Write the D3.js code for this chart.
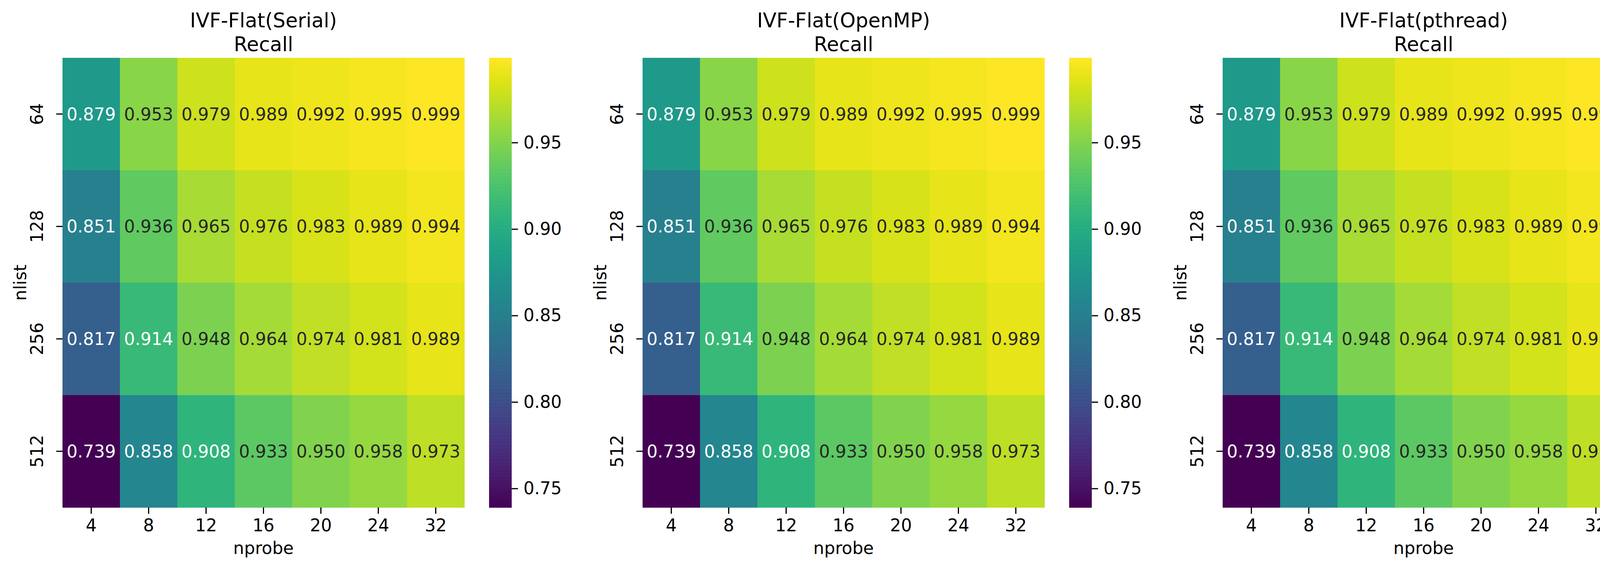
<!DOCTYPE html>
<html>
<head>
<meta charset="utf-8">
<script src="https://cdn.jsdelivr.net/npm/d3@7"></script>
<style>
body { margin: 0; background: #fff; }
text { font-family: "DejaVu Sans", sans-serif; }
</style>
</head>
<body>
<svg id="chart" width="4431" height="1459"></svg>
<script>
const titles = ["IVF-Flat(Serial)", "IVF-Flat(OpenMP)", "IVF-Flat(pthread)"]
const nprobe = [4, 8, 12, 16, 20, 24, 32]
const nlist = [64, 128, 256, 512]
const recall = [
    [0.879, 0.953, 0.979, 0.989, 0.992, 0.995, 0.999],
    [0.851, 0.936, 0.965, 0.976, 0.983, 0.989, 0.994],
    [0.817, 0.914, 0.948, 0.964, 0.974, 0.981, 0.989],
    [0.739, 0.858, 0.908, 0.933, 0.950, 0.958, 0.973]
]
const cbTicks = [0.75, 0.80, 0.85, 0.90, 0.95]

const svg = d3.select("#chart")
let panelLeft = [160, 1645, 3130]
let marginTop = 148, w = 1029, h = 1151

const flat = recall.flat()
const vmin = d3.min(flat), vmax = d3.max(flat)
const color = d3.scaleSequential(d3.interpolateViridis).domain([vmin, vmax])

function textColor(c) {
    const rgb = d3.rgb(c)
    const lin = v => { v /= 255; return v <= 0.03928 ? v / 12.92 : Math.pow((v + 0.055) / 1.055, 2.4) }
    const lum = 0.2126 * lin(rgb.r) + 0.7152 * lin(rgb.g) + 0.0722 * lin(rgb.b)
    return lum > 0.408 ? "#262626" : "#ffffff"
}

titles.forEach((title, p) => {
    const g = svg.append("g").attr("transform", `translate(${panelLeft[p]}, ${marginTop})`)

    const x = d3.scaleBand().domain(nprobe).range([0, w])
    const y = d3.scaleBand().domain(nlist).range([0, h])

    const rows = recall.flatMap((row, i) => row.map((v, j) => ({r: nlist[i], c: nprobe[j], v})))

    g.selectAll("rect.cell")
        .data(rows)
        .enter()
        .append("rect")
        .attr("class", "cell")
        .attr("x", d => x(d.c))
        .attr("y", d => y(d.r))
        .attr("width", x.bandwidth() + 0.5)
        .attr("height", y.bandwidth() + 0.5)
        .attr("fill", d => color(d.v))

    g.selectAll("text.ann")
        .data(rows)
        .enter()
        .append("text")
        .attr("class", "ann")
        .attr("x", d => x(d.c) + x.bandwidth() / 2)
        .attr("y", d => y(d.r) + y.bandwidth() / 2)
        .attr("dy", "0.36em")
        .attr("text-anchor", "middle")
        .attr("font-size", 44)
        .attr("fill", d => textColor(color(d.v)))
        .text(d => d.v.toFixed(3))

    const xAxis = g.append("g")
        .attr("transform", `translate(0, ${h})`)
        .call(d3.axisBottom(x).tickSize(16).tickPadding(14))
    const yAxis = g.append("g")
        .call(d3.axisLeft(y).tickSize(16).tickPadding(14))
    ;[xAxis, yAxis].forEach(a => {
        a.select(".domain").remove()
        a.selectAll("line").attr("stroke", "#000").attr("stroke-width", 3)
        a.selectAll("text").attr("font-size", 44).attr("fill", "#000")
            .style("font-family", "DejaVu Sans")
    })
    yAxis.selectAll("text")
        .attr("text-anchor", "middle")
        .attr("transform", "translate(-50, 0) rotate(-90)")
        .attr("x", 0)
        .attr("dy", 0)

    g.append("text")
        .attr("x", w / 2).attr("y", 1418 - marginTop)
        .attr("text-anchor", "middle").attr("font-size", 44)
        .text("nprobe")
    g.append("text")
        .attr("transform", `translate(${67 - 160}, ${h / 2}) rotate(-90)`)
        .attr("text-anchor", "middle").attr("font-size", 44)
        .text("nlist")

    g.append("text")
        .attr("x", w / 2).attr("y", 70 - marginTop)
        .attr("text-anchor", "middle").attr("font-size", 51)
        .text(title)
    g.append("text")
        .attr("x", w / 2).attr("y", 131 - marginTop)
        .attr("text-anchor", "middle").attr("font-size", 51)
        .text("Recall")

    // colorbar
    const cb = g.append("g").attr("transform", `translate(${1252 - 160}, 0)`)
    const cbW = 58
    const cy = d3.scaleLinear().domain([vmin, vmax]).range([h, 0])
    const steps = d3.range(0, 256)
    cb.selectAll("rect")
        .data(steps)
        .enter()
        .append("rect")
        .attr("x", 0)
        .attr("width", cbW)
        .attr("y", s => cy(vmin + (vmax - vmin) * (s + 1) / 256))
        .attr("height", h / 256 + 0.6)
        .attr("fill", s => color(vmin + (vmax - vmin) * (s + 0.5) / 256))
    const cbAxis = cb.append("g")
        .attr("transform", `translate(${cbW}, 0)`)
        .call(d3.axisRight(cy).tickValues(cbTicks).tickFormat(d3.format(".2f")).tickSize(16).tickPadding(14))
    cbAxis.select(".domain").remove()
    cbAxis.selectAll("line").attr("stroke", "#000").attr("stroke-width", 3)
    cbAxis.selectAll("text").attr("font-size", 44).attr("fill", "#000")
        .style("font-family", "DejaVu Sans")
})
</script>
</body>
</html>
